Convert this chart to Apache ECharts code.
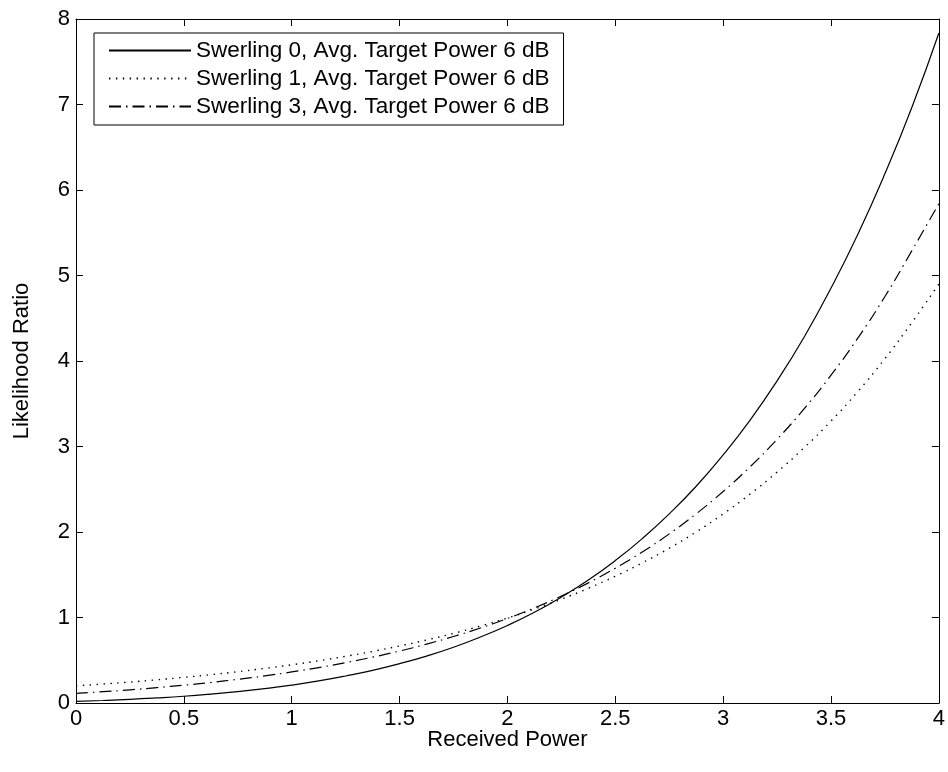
<!DOCTYPE html>
<html>
<head>
<meta charset="utf-8">
<script src="https://cdn.jsdelivr.net/npm/echarts@6/dist/echarts.min.js"></script>
<style>html,body{margin:0;padding:0;background:#fff;}#c{width:948px;height:772px;}</style>
</head>
<body>
<div id="c"></div>
<script>
var xValues = [0, 0.125, 0.25, 0.375, 0.5, 0.625, 0.75, 0.875, 1, 1.125, 1.25, 1.375, 1.5, 1.625, 1.75, 1.875,
  2, 2.125, 2.25, 2.375, 2.5, 2.625, 2.75, 2.875, 3, 3.125, 3.25, 3.375, 3.5, 3.625, 3.75, 3.875, 4];
var swerling0 = [0.019, 0.029, 0.042, 0.059, 0.079, 0.104, 0.133, 0.168, 0.209, 0.258, 0.316, 0.382, 0.460, 0.549, 0.652, 0.772,
  0.907, 1.062, 1.239, 1.438, 1.666, 1.923, 2.212, 2.535, 2.902, 3.309, 3.768, 4.278, 4.853, 5.486, 6.192, 6.968, 7.836];
var swerling1 = [0.201, 0.222, 0.245, 0.271, 0.300, 0.331, 0.366, 0.405, 0.447, 0.494, 0.546, 0.603, 0.667, 0.737, 0.814, 0.900,
  0.994, 1.099, 1.214, 1.342, 1.483, 1.639, 1.811, 2.001, 2.212, 2.444, 2.701, 2.985, 3.298, 3.645, 4.028, 4.451, 4.90];
var swerling3 = [0.112, 0.132, 0.154, 0.180, 0.208, 0.240, 0.277, 0.317, 0.363, 0.414, 0.472, 0.536, 0.608, 0.688, 0.778, 0.877,
  0.989, 1.113, 1.251, 1.405, 1.576, 1.767, 1.978, 2.213, 2.474, 2.763, 3.084, 3.440, 3.834, 4.271, 4.755, 5.291, 5.84];
var seriesNames = ['Swerling 0, Avg. Target Power 6 dB', 'Swerling 1, Avg. Target Power 6 dB', 'Swerling 3, Avg. Target Power 6 dB'];
var xTicks = [0, 0.5, 1, 1.5, 2, 2.5, 3, 3.5, 4];
var yTicks = [0, 1, 2, 3, 4, 5, 6, 7, 8];

function pairs(ys) { return xValues.map(function (x, i) { return [x, ys[i]]; }); }

var FONT = 'Liberation Sans';
var FS = 22;
var chart = echarts.init(document.getElementById('c'), null, {renderer: 'canvas'});
function axisLine() { return {show: true, onZero: false, lineStyle: {color: '#000', width: 1}}; }
function tick() { return {show: true, inside: true, length: 7, lineStyle: {color: '#000', width: 1}}; }
chart.setOption({
  animation: false,
  backgroundColor: '#fff',
  grid: {left: 76, right: 3, top: 19, bottom: 69},
  legend: {
    orient: 'vertical', left: 94, top: 33,
    padding: [6, 14, 7, 14], itemGap: 5, itemWidth: 82, itemHeight: 14,
    borderColor: '#000', borderWidth: 1, backgroundColor: '#fff',
    itemStyle: {opacity: 0},
    textStyle: {fontFamily: FONT, fontSize: 22.5, lineHeight: 22, color: '#000'},
    data: seriesNames
  },
  xAxis: [{
    type: 'value', min: 0, max: 4, interval: 0.5, position: 'bottom',
    name: 'Received Power', nameLocation: 'middle', nameGap: 26, nameMoveOverlap: false,
    nameTextStyle: {fontFamily: FONT, fontSize: FS, color: '#000'},
    axisLine: axisLine(), axisTick: tick(), splitLine: {show: false},
    axisLabel: {fontFamily: FONT, fontSize: FS, color: '#000', margin: 5,
      formatter: function (v) { return xTicks.indexOf(v) >= 0 ? String(v) : ''; }}
  }, {
    type: 'value', min: 0, max: 4, interval: 0.5, position: 'top',
    axisLine: axisLine(), axisTick: tick(), splitLine: {show: false}, axisLabel: {show: false}
  }],
  yAxis: [{
    type: 'value', min: 0, max: 8, interval: 1, position: 'left',
    name: 'Likelihood Ratio', nameLocation: 'middle', nameGap: 43, nameRotate: 90, nameMoveOverlap: false,
    nameTextStyle: {fontFamily: FONT, fontSize: FS, color: '#000'},
    axisLine: axisLine(), axisTick: tick(), splitLine: {show: false},
    axisLabel: {fontFamily: FONT, fontSize: FS, color: '#000', margin: 6,
      formatter: function (v) { return yTicks.indexOf(v) >= 0 ? String(v) : ''; }}
  }, {
    type: 'value', min: 0, max: 8, interval: 1, position: 'right',
    axisLine: axisLine(), axisTick: tick(), splitLine: {show: false}, axisLabel: {show: false}
  }],
  series: [
    {name: seriesNames[0], type: 'line', data: pairs(swerling0), smooth: true, symbol: 'none', showSymbol: false,
     lineStyle: {color: '#000', width: 1.2, type: 'solid'}, itemStyle: {color: '#000'}},
    {name: seriesNames[1], type: 'line', data: pairs(swerling1), smooth: true, symbol: 'none', showSymbol: false,
     lineStyle: {color: '#000', width: 1.4, type: [1.4, 5.5]}, itemStyle: {color: '#000'}},
    {name: seriesNames[2], type: 'line', data: pairs(swerling3), smooth: true, symbol: 'none', showSymbol: false,
     lineStyle: {color: '#000', width: 1.2, type: [12, 5, 1.5, 5]}, itemStyle: {color: '#000'}}
  ]
});
</script>
</body>
</html>
